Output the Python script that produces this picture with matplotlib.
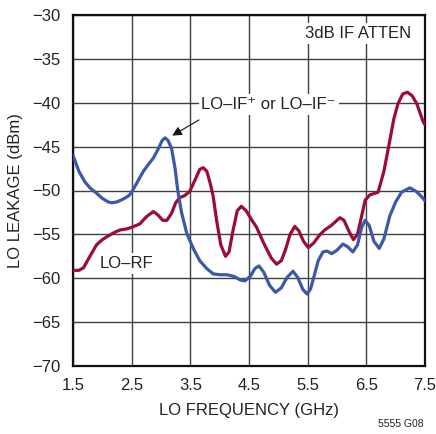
"""
LO leakage vs LO frequency (5555 G08) recreated with matplotlib.
Output: out.png
"""
import matplotlib
matplotlib.use("Agg")
import matplotlib.pyplot as plt

FONT = ["Liberation Sans", "DejaVu Sans"]
plt.rcParams["font.family"] = FONT
plt.rcParams["axes.unicode_minus"] = True

# LO-IF+ / LO-IF- curve (blue)
if_freq = [1.50, 1.60, 1.70, 1.79, 1.90, 2.00, 2.10, 2.16, 2.25, 2.35, 2.45, 2.50,
           2.60, 2.70, 2.80, 2.87, 2.95, 3.02, 3.07, 3.12, 3.18, 3.24, 3.29, 3.35,
           3.44, 3.55, 3.66, 3.78, 3.89, 4.00, 4.12, 4.25, 4.35, 4.43, 4.52, 4.60,
           4.67, 4.75, 4.85, 4.95, 5.05, 5.15, 5.25, 5.33, 5.42, 5.49, 5.55, 5.62,
           5.68, 5.76, 5.83, 5.91, 6.00, 6.10, 6.18, 6.27, 6.35, 6.42, 6.48, 6.55,
           6.63, 6.72, 6.80, 6.90, 7.00, 7.10, 7.24, 7.35, 7.47, 7.50]
if_leak = [-46.0, -47.8, -49.0, -49.7, -50.3, -50.9, -51.3, -51.4, -51.3, -51.0, -50.6, -50.2,
           -49.0, -47.8, -46.9, -46.3, -45.3, -44.3, -44.0, -44.3, -45.2, -47.5, -50.2, -52.5,
           -54.9, -56.6, -58.0, -58.9, -59.5, -59.6, -59.6, -59.8, -60.2, -60.3, -59.8, -58.9,
           -58.6, -59.3, -60.8, -61.6, -61.1, -59.9, -59.2, -59.9, -61.3, -61.8, -61.2, -59.5,
           -58.0, -57.0, -56.9, -57.2, -56.8, -56.1, -56.4, -57.0, -56.2, -54.2, -53.4, -54.0,
           -55.8, -56.6, -55.5, -52.9, -51.3, -50.2, -49.7, -50.1, -50.9, -51.2]

# LO-RF curve (red)
rf_freq = [1.50, 1.60, 1.68, 1.78, 1.90, 2.00, 2.07, 2.20, 2.30, 2.40, 2.50, 2.64,
           2.75, 2.87, 2.95, 3.03, 3.10, 3.18, 3.25, 3.32, 3.40, 3.49, 3.58, 3.66,
           3.72, 3.78, 3.84, 3.89, 3.95, 4.02, 4.10, 4.16, 4.22, 4.30, 4.37, 4.45,
           4.55, 4.63, 4.75, 4.88, 4.97, 5.05, 5.12, 5.20, 5.28, 5.35, 5.43, 5.51,
           5.60, 5.70, 5.79, 5.90, 6.05, 6.12, 6.20, 6.28, 6.35, 6.42, 6.48, 6.56,
           6.70, 6.80, 6.90, 6.97, 7.04, 7.12, 7.20, 7.28, 7.36, 7.47, 7.50]
rf_leak = [-59.1, -59.1, -58.8, -57.6, -56.2, -55.6, -55.3, -54.8, -54.5, -54.4, -54.2, -53.8,
           -53.0, -52.4, -52.8, -53.4, -53.4, -52.6, -51.4, -50.8, -50.6, -50.1, -48.8, -47.6,
           -47.4, -47.8, -49.2, -50.7, -53.5, -56.2, -57.5, -57.0, -54.8, -52.3, -51.8, -52.3,
           -53.4, -54.2, -56.0, -57.7, -58.4, -58.0, -56.8, -55.0, -54.1, -54.6, -55.8, -56.5,
           -56.0, -55.1, -54.5, -54.0, -53.1, -53.4, -54.6, -55.6, -55.0, -52.9, -51.1, -50.5,
           -50.2, -47.8, -44.3, -41.8, -40.1, -39.0, -38.8, -39.2, -40.1, -42.2, -42.5]

x_ticks = [1.5, 2.5, 3.5, 4.5, 5.5, 6.5, 7.5]
y_ticks = [-70, -65, -60, -55, -50, -45, -40, -35, -30]

RED = "#9b0d34"
BLUE = "#3b59a8"
GRID = "#404040"
TXT = "#222222"
FS = 12

fig = plt.figure(figsize=(4.36, 4.34), dpi=100)
ax = fig.add_axes([73 / 436, 1 - 366 / 434, 352 / 436, 351 / 434])

ax.set_xlim(1.5, 7.5)
ax.set_ylim(-70, -30)
ax.set_xticks(x_ticks)
ax.set_yticks(y_ticks)
ax.set_xticklabels([f"{v:.1f}" for v in x_ticks])
ax.set_yticklabels([f"\u2212{abs(v)}" for v in y_ticks])
ax.tick_params(length=0, labelsize=FS, pad=9, colors=TXT)
ax.grid(True, color=GRID, linewidth=1.0)
ax.set_axisbelow(True)
for sp in ax.spines.values():
    sp.set_linewidth(1.6)
    sp.set_color("#111111")

ax.plot(rf_freq, rf_leak, color=RED, linewidth=2.3, solid_capstyle="round", zorder=3)
ax.plot(if_freq, if_leak, color=BLUE, linewidth=2.3, solid_capstyle="round", zorder=3)

ax.set_xlabel("LO FREQUENCY (GHz)", fontsize=FS, labelpad=7, color=TXT)
ax.set_ylabel("LO LEAKAGE (dBm)", fontsize=FS, labelpad=7, color=TXT)

box = dict(facecolor="white", edgecolor="none", pad=2)
ax.text(6.36, -32.1, "3dB IF ATTEN", ha="center", va="center", fontsize=FS,
        color=TXT, bbox=box, zorder=2)
ax.text(3.69, -40.2, "LO\u2013IF\u207a or LO\u2013IF\u207b", ha="left", va="center",
        fontsize=FS, color=TXT, bbox=box, zorder=2)
ax.text(1.96, -58.3, "LO\u2013RF", ha="left", va="center", fontsize=FS,
        color=TXT, bbox=box, zorder=2)
ax.annotate("", xy=(3.15, -43.9), xytext=(3.69, -41.8),
            arrowprops=dict(arrowstyle="-|>", color="#111111", lw=0.8,
                            mutation_scale=14), zorder=4)

fig.text(424 / 436, 1 - 424 / 434, "5555 G08", ha="right", va="center",
         fontsize=7.5, color=TXT)

fig.savefig("out.png", dpi=100)
